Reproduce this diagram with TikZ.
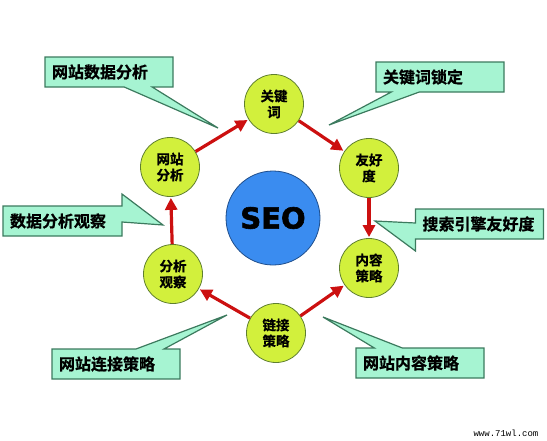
\documentclass[tikz,border=0pt]{standalone}
\usepackage{fontspec}
\setmainfont{Liberation Sans}
\setmonofont{Liberation Mono}
\newfontfamily\cjk{Noto Sans CJK SC}[BoldFont={Noto Sans CJK SC Bold}, BoldFeatures={FakeBold=0.8}]
\newfontfamily\heavy{DejaVu Sans}[BoldFont={DejaVu Sans Bold}, BoldFeatures={FakeBold=2}]
\usetikzlibrary{shapes.callouts,arrows.meta}
\definecolor{ballfill}{HTML}{D2F03C}
\definecolor{ballline}{HTML}{5F7F2F}
\definecolor{notefill}{HTML}{A6F4D2}
\definecolor{noteline}{HTML}{3C7A5E}
\definecolor{seofill}{HTML}{3A8CF0}
\definecolor{seoline}{HTML}{1F4E8C}
\definecolor{flowred}{HTML}{CC1010}

\begin{document}
\begin{tikzpicture}
[
    x=1pt, y=-1pt,
    ball/.style={circle, draw=ballline, line width=0.8pt, fill=ballfill, minimum size=59pt, inner sep=0pt, align=center, font=\cjk\bfseries\fontsize{13.5}{16}\selectfont},
    note/.style={rectangle callout, draw=noteline, line width=1.2pt, fill=notefill, minimum height=30pt, text width=114pt, inner xsep=7pt, inner ysep=0pt, align=left, callout pointer width=28pt, font=\cjk\bfseries\fontsize{16}{18}\selectfont},
    flow/.style={draw=flowred, line width=3.2pt, -{Triangle[length=12pt,width=12pt]}, shorten >=1pt},
]
\useasboundingbox (0,0) rectangle (547,440);
\node [circle, draw=seoline, line width=0.8pt, fill=seofill, minimum size=94pt, font=\heavy\bfseries\fontsize{29}{29}\selectfont] (seo) at (273,218) {SEO};
\node [ball] (gjc) at (274,104) {关键\\词};
\node [ball] (yhd) at (369,168) {友好\\度};
\node [ball] (nrcl) at (369,268) {内容\\策略};
\node [ball] (ljcl) at (276,333) {链接\\策略};
\node [ball] (fxgc) at (173,274) {分析\\观察};
\node [ball] (wzfx) at (170,167) {网站\\分析};
\draw [flow] (wzfx) -- (gjc);
\draw [flow] (gjc) -- (yhd);
\draw [flow] (yhd) -- (nrcl);
\draw [flow] (ljcl) -- (nrcl);
\draw [flow] (ljcl) -- (fxgc);
\draw [flow] (fxgc) -- (wzfx);
\coordinate (tip-sjfx) at (218,128);
\coordinate (tip-gjsd) at (329,125);
\coordinate (tip-ssyq) at (375,221);
\coordinate (tip-fxgc) at (163,225);
\coordinate (tip-ljcl) at (227,315);
\coordinate (tip-nrcl) at (323,317);
\node [note, callout absolute pointer={(tip-sjfx)}] (n-sjfx) at (109,72) {网站数据分析};
\node [note, callout absolute pointer={(tip-gjsd)}] (n-gjsd) at (440,77) {关键词锁定};
\node [note, callout absolute pointer={(tip-ssyq)}] (n-ssyq) at (479.5,224) {搜索引擎友好度};
\node [note, text width=105pt, callout absolute pointer={(tip-fxgc)}] (n-fxgc) at (62.5,221) {数据分析观察};
\node [note, callout absolute pointer={(tip-ljcl)}] (n-ljcl) at (116,364) {网站连接策略};
\node [note, callout absolute pointer={(tip-nrcl)}] (n-nrcl) at (420,363) {网站内容策略};
\node [font=\ttfamily\fontsize{9}{9}\selectfont] (mark) at (506,433) {www.71wl.com};
\end{tikzpicture}
\end{document}
